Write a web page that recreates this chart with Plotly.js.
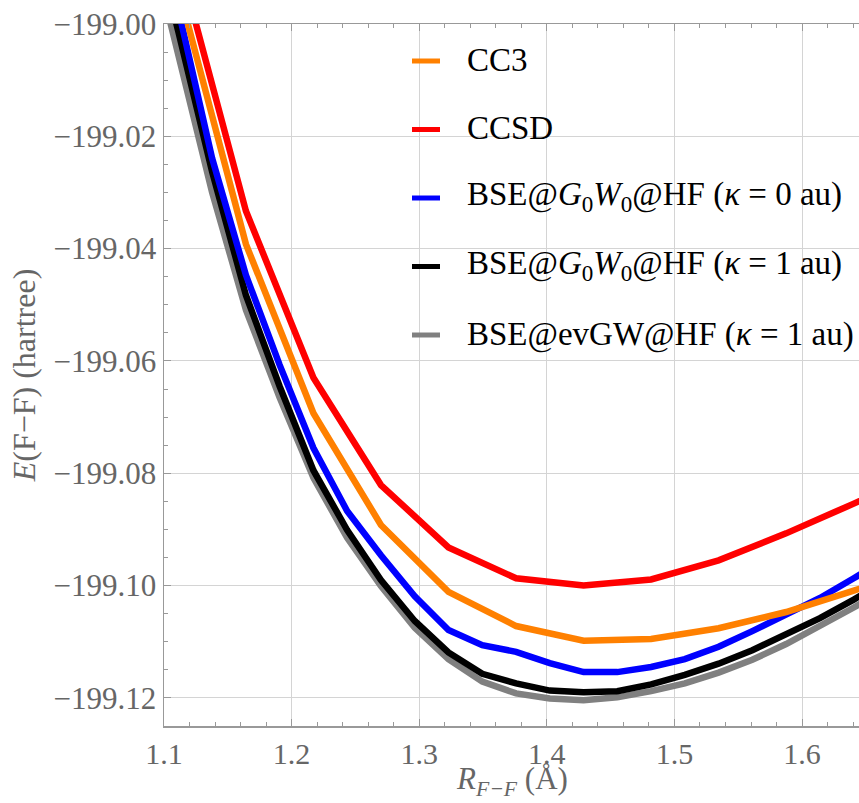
<!DOCTYPE html>
<html>
<head>
<meta charset="utf-8">
<script src="https://cdn.plot.ly/plotly-3.0.1.min.js"></script>
<style>html,body{margin:0;padding:0;background:#fff;}#chart{width:859px;height:803px;}</style>
</head>
<body>
<div id="chart"></div>
<script>
// Bond lengths (Å) — CC grid (0.1 bohr steps) and BSE grid (0.05 bohr steps)
const xCC = [1.1113, 1.1642, 1.2171, 1.2700, 1.3229, 1.3759, 1.4288, 1.4817, 1.5346, 1.5875, 1.6405, 1.6934];
const xBSE = [1.0848, 1.1113, 1.1377, 1.1642, 1.1906, 1.2171, 1.2435, 1.2700, 1.2965, 1.3229, 1.3494,
              1.3759, 1.4023, 1.4288, 1.4552, 1.4817, 1.5081, 1.5346, 1.5610, 1.5875, 1.6140, 1.6405, 1.6669];

// Energies (hartree)
const eCC3 = [-198.9936, -199.0392, -199.0693, -199.0892, -199.1011, -199.1072, -199.1098, -199.1095,
              -199.1076, -199.1047, -199.1009, -199.0969];
const eCCSD = [-198.9883, -199.0333, -199.0630, -199.0821, -199.0932, -199.0987, -199.1000, -199.0989,
               -199.0955, -199.0907, -199.0854, -199.0800];
const eG0W0k0 = [-198.9740, -198.9975, -199.0239, -199.0447, -199.0607, -199.0755, -199.0867, -199.0946,
                 -199.1019, -199.1079, -199.1106, -199.1118, -199.1138, -199.1154, -199.1154, -199.1145,
                 -199.1131, -199.1109, -199.1081, -199.1051, -199.1022, -199.0987, -199.0951];
const eG0W0k1 = [-198.9779, -199.0014, -199.0263, -199.0483, -199.0645, -199.0795, -199.0901, -199.0990,
                 -199.1063, -199.1119, -199.1157, -199.1174, -199.1187, -199.1190, -199.1188, -199.1176,
                 -199.1159, -199.1139, -199.1115, -199.1088, -199.1058, -199.1025, -199.0990];
const eevGWk1 = [-198.9811, -199.0052, -199.0300, -199.0509, -199.0665, -199.0808, -199.0915, -199.1001,
                 -199.1075, -199.1131, -199.1171, -199.1192, -199.1201, -199.1204, -199.1199, -199.1188,
                 -199.1174, -199.1155, -199.1132, -199.1104, -199.1073, -199.1039, -199.1004];

// Legend labels and colours (legend order)
const seriesNames = ['CC3', 'CCSD',
  'BSE@<i>G</i><sub>0</sub><i>W</i><sub>0</sub>@HF (<i>κ</i> = 0 au)',
  'BSE@<i>G</i><sub>0</sub><i>W</i><sub>0</sub>@HF (<i>κ</i> = 1 au)',
  'BSE@evGW@HF (<i>κ</i> = 1 au)'];
const seriesColors = ['#FF8000', '#FF0000', '#0000FF', '#000000', '#808080'];
const xTitle = '<i>R</i><sub><i>F−F</i></sub> (Å)';
const yTitle = '<i>E</i>(F−F) (hartree)';

const LW = 6.5;
function tr(x, y, i) {
  return {x: x, y: y, name: seriesNames[i], type: 'scatter', mode: 'lines',
          line: {color: seriesColors[i], width: LW}, showlegend: false};
}

// drawing order: grey under black, etc.
const data = [
  tr(xBSE, eevGWk1, 4),
  tr(xBSE, eG0W0k1, 3),
  tr(xBSE, eG0W0k0, 2),
  tr(xCC, eCC3, 0),
  tr(xCC, eCCSD, 1)
];

const serif = 'Liberation Serif, Times New Roman, serif';

// Manual legend (paper coordinates)
const plotL = 164, plotW = 695, plotB = 726, plotH = 702;
const px2x = p => (p - plotL) / plotW;
const py2y = p => (plotB - p) / plotH;
const legSwatch = [412, 440], legText = 465, legY0 = 61, legDy = 68.5;
const shapes = [], annotations = [];
seriesNames.forEach((nm, i) => {
  const yc = legY0 + i * legDy;
  shapes.push({type: 'line', xref: 'paper', yref: 'paper',
    x0: px2x(legSwatch[0]), x1: px2x(legSwatch[1]), y0: py2y(yc), y1: py2y(yc),
    line: {color: seriesColors[i], width: 5}});
  annotations.push({xref: 'paper', yref: 'paper', x: px2x(legText), y: py2y(yc - 1),
    xanchor: 'left', yanchor: 'middle', showarrow: false, text: nm,
    font: {family: serif, size: 33, color: '#000'}});
});
// x-axis title placed below the tick labels
annotations.push({xref: 'paper', yref: 'paper', x: 0.5, y: py2y(781), xanchor: 'center', yanchor: 'middle',
  showarrow: false, text: xTitle, font: {family: serif, size: 31, color: '#666'}});

const layout = {
  width: 859, height: 803,
  margin: {l: 164, r: 0, t: 24, b: 77},
  paper_bgcolor: '#fff', plot_bgcolor: '#fff',
  font: {family: serif, size: 31, color: '#666'},
  showlegend: false,
  shapes: shapes,
  annotations: annotations,
  xaxis: {
    range: [1.1, 1.6446], tickmode: 'linear', tick0: 1.1, dtick: 0.1, tickformat: '.1f',
    ticks: 'inside', ticklen: 7, tickcolor: '#999', tickwidth: 1,
    showline: true, linecolor: '#999', linewidth: 1.5, mirror: 'allticks',
    showgrid: true, gridcolor: '#d4d4d4', gridwidth: 1, zeroline: false,
    minor: {dtick: 0.02, tick0: 1.1, ticks: 'inside', ticklen: 4, tickcolor: '#999', showgrid: false},
    tickfont: {family: serif, size: 30, color: '#666'}
  },
  yaxis: {
    range: [-199.125, -199.0], tickmode: 'linear', tick0: -199.0, dtick: 0.02, tickformat: '.2f',
    ticks: 'inside', ticklen: 7, tickcolor: '#999', tickwidth: 1,
    showline: true, linecolor: '#999', linewidth: 1.5, mirror: false,
    showgrid: true, gridcolor: '#d4d4d4', gridwidth: 1, zeroline: false,
    minor: {dtick: 0.005, tick0: -199.0, ticks: 'inside', ticklen: 4, tickcolor: '#999', showgrid: false},
    tickfont: {family: serif, size: 31, color: '#666'},
    title: {text: yTitle, font: {family: serif, size: 32, color: '#666'}, standoff: 8}
  }
};

Plotly.newPlot('chart', data, layout, {displayModeBar: false, staticPlot: true});
</script>
</body>
</html>
